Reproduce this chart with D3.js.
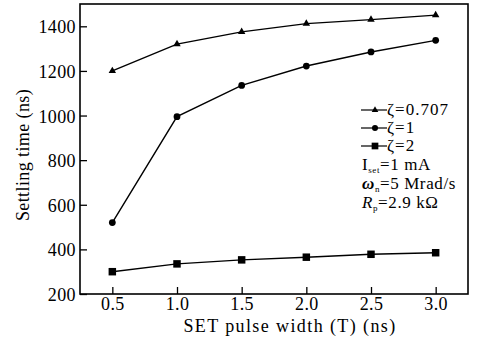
<!DOCTYPE html>
<html lang="en">
<head>
<meta charset="utf-8">
<title>Settling time vs SET pulse width</title>
<script src="https://d3js.org/d3.v7.min.js"></script>
<style>
  body { margin: 0; background: #fff; }
  svg text { font-family: "Liberation Serif", "Times New Roman", serif; fill: #000; }
</style>
</head>
<body>
<script>
// data
var pulseWidth = [0.5, 1.0, 1.5, 2.0, 2.5, 3.0];
var zeta0707 = [1200, 1320, 1375, 1412, 1430, 1450];
var zeta1 = [520, 995, 1135, 1222, 1285, 1337];
var zeta2 = [300, 335, 353, 365, 378, 385];
var xTicks = [0.5, 1.0, 1.5, 2.0, 2.5, 3.0];
var yTicks = [200, 400, 600, 800, 1000, 1200, 1400];

var width = 479, height = 342;
var margin = { top: 4, right: 11, bottom: 48, left: 80 };
var w = width - margin.left - margin.right;
var h = height - margin.top - margin.bottom;

var svg = d3.select("body").append("svg")
  .attr("width", width).attr("height", height);
var g = svg.append("g")
  .attr("transform", "translate(" + margin.left + "," + margin.top + ")");

var x = d3.scaleLinear().domain([0.25, 3.25]).range([0, w]);
var y = d3.scaleLinear().domain([200, 1500]).range([h, 0]);

// frame
g.append("rect").attr("width", w).attr("height", h)
  .attr("fill", "none").attr("stroke", "#000").attr("stroke-width", 1.6);

var xAxis = g.append("g").attr("transform", "translate(0," + h + ")")
  .call(d3.axisBottom(x).tickValues(xTicks).tickFormat(d3.format(".1f"))
    .tickSizeInner(-7).tickSizeOuter(0).tickPadding(3));
var yAxis = g.append("g")
  .call(d3.axisLeft(y).tickValues(yTicks).tickFormat(d3.format("d"))
    .tickSizeInner(-7).tickSizeOuter(0).tickPadding(4));
[xAxis, yAxis].forEach(function(a) {
  a.attr("font-family", null).attr("font-size", null);
  a.select(".domain").remove();
  a.selectAll("line").attr("stroke-width", 1.3);
  a.selectAll("text").attr("font-size", "18px").attr("letter-spacing", "0.4px");
});
yAxis.selectAll("text").attr("dy", "0.36em");

// axis titles
svg.append("text").attr("x", 290).attr("y", 332)
  .attr("text-anchor", "middle").attr("font-size", "18px")
  .attr("letter-spacing", "1.4px")
  .text("SET pulse width (T) (ns)");
svg.append("text").attr("transform", "translate(29,155) rotate(-90)")
  .attr("text-anchor", "middle").attr("font-size", "18px")
  .attr("letter-spacing", "0.4px")
  .text("Settling time (ns)");

var series = [
  { vals: zeta0707, sym: d3.symbolTriangle, size: 24, label: "\u03b6=0.707" },
  { vals: zeta1, sym: d3.symbolCircle, size: 36, label: "\u03b6=1" },
  { vals: zeta2, sym: d3.symbolSquare, size: 56, label: "\u03b6=2" }
];

var line = d3.line().x(function(d) { return x(d[0]); }).y(function(d) { return y(d[1]); });

series.forEach(function(s) {
  var pts = pulseWidth.map(function(p, i) { return [p, s.vals[i]]; });
  g.append("path").datum(pts).attr("d", line)
    .attr("fill", "none").attr("stroke", "#000").attr("stroke-width", 1.4);
  g.selectAll(null).data(pts).enter().append("path")
    .attr("d", d3.symbol().type(s.sym).size(s.size))
    .attr("transform", function(d) { return "translate(" + x(d[0]) + "," + y(d[1]) + ")"; })
    .attr("fill", "#000");
});

// legend
var leg = svg.append("g").attr("transform", "translate(361,110)");
series.forEach(function(s, i) {
  var row = leg.append("g").attr("transform", "translate(0," + (i * 18) + ")");
  row.append("line").attr("x1", 0).attr("x2", 26).attr("stroke", "#000").attr("stroke-width", 1.2);
  row.append("path").attr("d", d3.symbol().type(s.sym).size(s.size * 0.8))
    .attr("transform", "translate(14,0)").attr("fill", "#000");
  row.append("text").attr("x", 26).attr("y", 5).attr("font-size", "17px")
    .attr("letter-spacing", "1px").text(s.label);
});

var notes = leg.append("g").attr("transform", "translate(1,0)")
  .attr("font-size", "17px").attr("letter-spacing", "0.6px");
var t1 = notes.append("text").attr("y", 60);
t1.append("tspan").text("I");
t1.append("tspan").attr("font-size", "9px").attr("dy", 3).text("set");
t1.append("tspan").attr("dy", -3).text("=1 mA");
var t2 = notes.append("text").attr("y", 79);
t2.append("tspan").attr("font-style", "italic").attr("font-weight", "bold").text("\u03c9");
t2.append("tspan").attr("font-size", "9px").attr("dy", 3).text("n");
t2.append("tspan").attr("dy", -3).text("=5 Mrad/s");
var t3 = notes.append("text").attr("y", 98);
t3.append("tspan").attr("font-style", "italic").text("R");
t3.append("tspan").attr("font-size", "9px").attr("dy", 3).text("p");
t3.append("tspan").attr("dy", -3).text("=2.9 k\u03a9");
</script>
</body>
</html>
